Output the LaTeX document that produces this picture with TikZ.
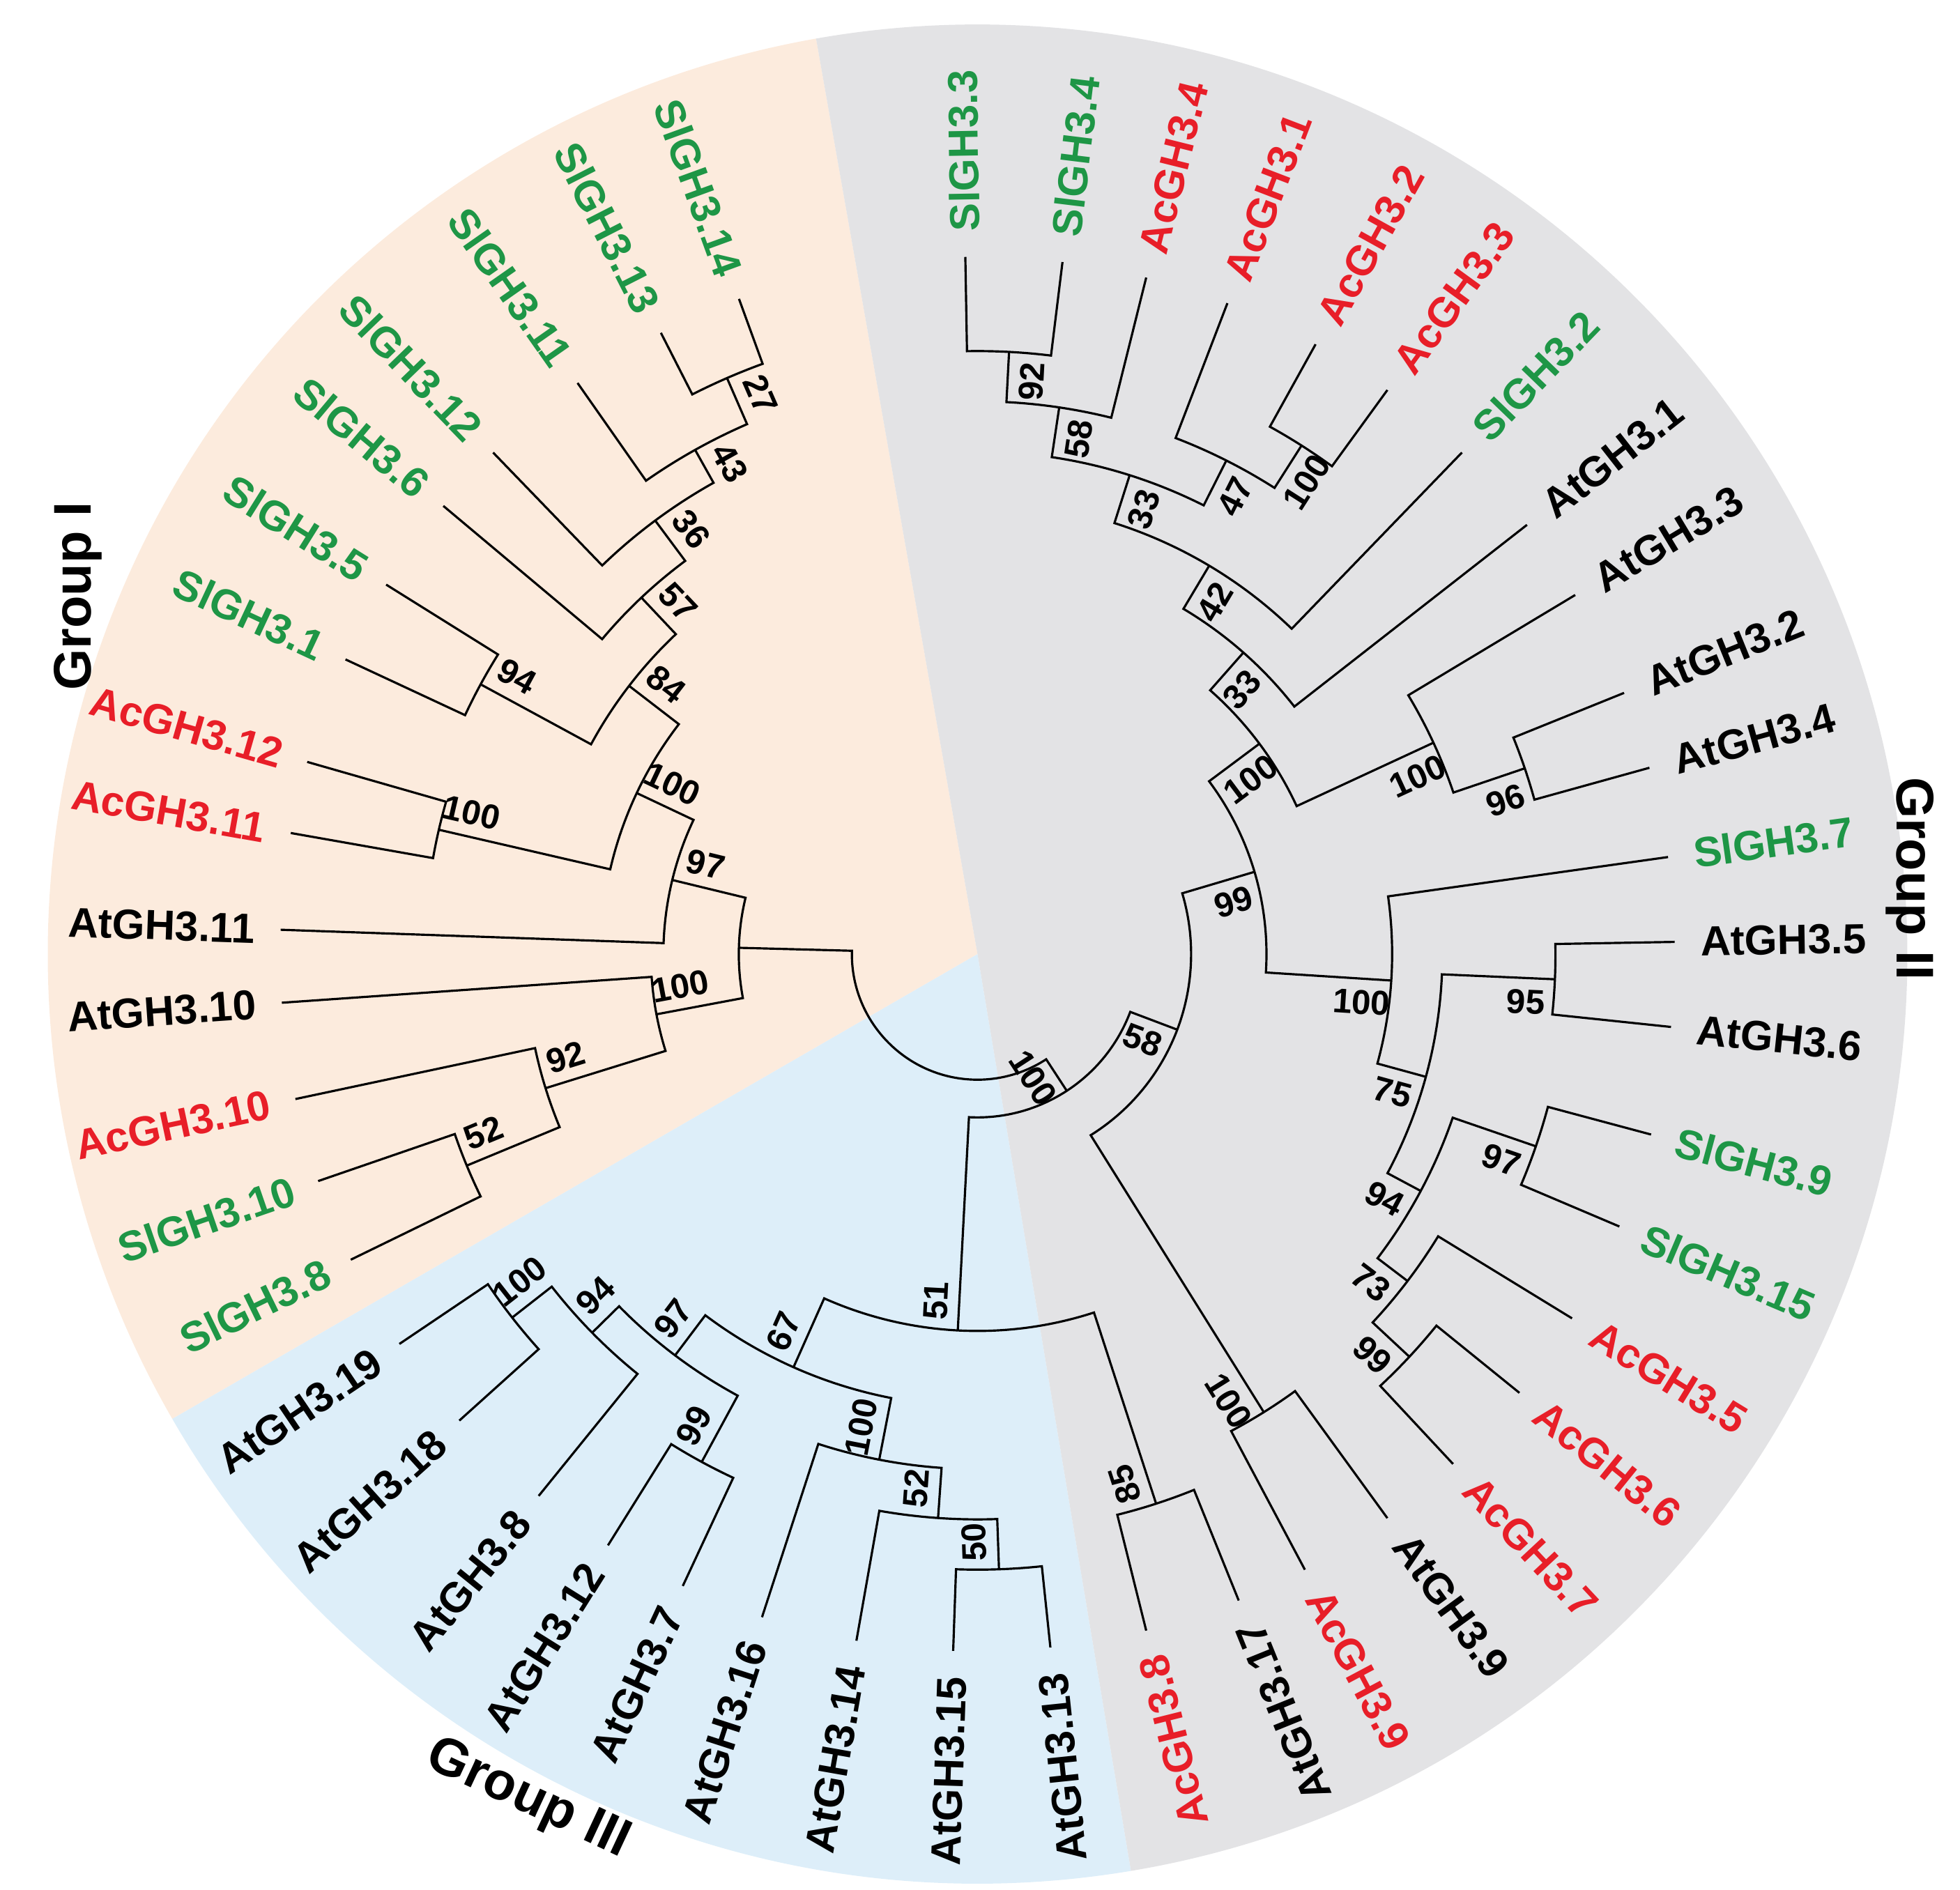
\documentclass[tikz,border=0pt]{standalone}
\usepackage{fontspec}
\setmainfont{Liberation Sans}
\usetikzlibrary{positioning,calc}
\definecolor{peach}{RGB}{252,235,221}
\definecolor{greyII}{RGB}{227,227,229}
\definecolor{skyIII}{RGB}{221,238,249}
\definecolor{slgreen}{RGB}{30,150,70}
\definecolor{acred}{RGB}{232,30,40}

\tikzset{
  gene/.style={font=\bfseries\fontsize{9.5}{11}\selectfont, inner sep=0pt},
  boot/.style={font=\bfseries\fontsize{7.8}{9}\selectfont, inner sep=0.5pt},
  group/.style={font=\bfseries\fontsize{12}{14}\selectfont},
  branch/.style={line width=0.5pt}
}

% leaf: name, angle, colour, text
\newcommand\gene[4]{%
  \coordinate (#1) at (#2:5.55);
  \expandafter\xdef\csname ang#1\endcsname{#2}%
  \pgfmathtruncatemacro\outw{#2>-65 ? 1 : 0}%
  \ifnum\outw=1
    \node[gene,#3,anchor=west,rotate=#2] (l#1) at (#2:5.75) {#4};
  \else
    \pgfmathsetmacro\rot{#2+180}%
    \node[gene,#3,anchor=east,rotate=\rot] (l#1) at (#2:5.75) {#4};
  \fi}

% clade: name, radius, child 1, child 2, bootstrap
\newcommand\clade[5]{%
  \pgfmathsetmacro\aone{\csname ang#3\endcsname}%
  \pgfmathsetmacro\atwo{\csname ang#4\endcsname}%
  \pgfmathsetmacro\amid{(\aone+\atwo)/2}%
  \draw[branch] (#3) -- (\aone:#2) arc[start angle=\aone, end angle=\atwo, radius=#2] -- (#4);
  \coordinate (#1) at (\amid:#2);
  \expandafter\xdef\csname ang#1\endcsname{\amid}%
  \pgfmathsetmacro\aoff{\amid-11.5/#2}%
  \pgfmathtruncatemacro\outw{\amid>-65 ? 1 : 0}%
  \ifnum\outw=1 \pgfmathsetmacro\rot{\amid}\else \pgfmathsetmacro\rot{\amid+180}\fi
  \node[boot,rotate=\rot] (b#1) at (\aoff:{#2-0.22}) {#5};}

\begin{document}
\begin{tikzpicture}
\useasboundingbox (0,0) rectangle (15.6,15.045);
\begin{scope}[shift={(7.78,7.45)}]
% background sectors
\fill[peach] (0,0) -- (100:7.4) arc[start angle=100, end angle=210, radius=7.4] -- cycle;
\fill[skyIII] (0,0) -- (210:7.4) arc[start angle=210, end angle=279.5, radius=7.4] -- cycle;
\fill[greyII] (0,0) -- (-80.5:7.4) arc[start angle=-80.5, end angle=100, radius=7.4] -- cycle;

% Group II leaves
\gene{s3}{91}{slgreen}{SlGH3.3}
\gene{s4}{83}{slgreen}{SlGH3.4}
\gene{a4}{76}{acred}{AcGH3.4}
\gene{a1}{69}{acred}{AcGH3.1}
\gene{a2}{61}{acred}{AcGH3.2}
\gene{a3}{54}{acred}{AcGH3.3}
\gene{s2}{46}{slgreen}{SlGH3.2}
\gene{t1}{38}{black}{AtGH3.1}
\gene{t3}{31}{black}{AtGH3.3}
\gene{t2}{22}{black}{AtGH3.2}
\gene{t4}{15.5}{black}{AtGH3.4}
\gene{s7}{8}{slgreen}{SlGH3.7}
\gene{t5}{1}{black}{AtGH3.5}
\gene{t6}{-6}{black}{AtGH3.6}
\gene{s9}{-15}{slgreen}{SlGH3.9}
\gene{s15}{-23}{slgreen}{SlGH3.15}
\gene{a5}{-31.5}{acred}{AcGH3.5}
\gene{a6}{-39}{acred}{AcGH3.6}
\gene{a7}{-47}{acred}{AcGH3.7}
\gene{t9}{-54}{black}{AtGH3.9}
\gene{a9}{-62}{acred}{AcGH3.9}
\gene{t17}{-68}{black}{AtGH3.17}
\gene{a8}{-76}{acred}{AcGH3.8}
% Group III leaves
\gene{t13}{-84}{black}{AtGH3.13}
\gene{t15}{-92}{black}{AtGH3.15}
\gene{t14}{-100}{black}{AtGH3.14}
\gene{t16}{-108}{black}{AtGH3.16}
\gene{t7}{-115}{black}{AtGH3.7}
\gene{t12}{-122}{black}{AtGH3.12}
\gene{t8}{-129}{black}{AtGH3.8}
\gene{t18}{-138}{black}{AtGH3.18}
\gene{t19}{-146}{black}{AtGH3.19}
% Group I leaves
\gene{s8}{-154}{slgreen}{SlGH3.8}
\gene{s10}{-161}{slgreen}{SlGH3.10}
\gene{a10}{-168}{acred}{AcGH3.10}
\gene{t10}{-176}{black}{AtGH3.10}
\gene{t11}{-182}{black}{AtGH3.11}
\gene{a11}{-190}{acred}{AcGH3.11}
\gene{a12}{-196}{acred}{AcGH3.12}
\gene{s1}{-205}{slgreen}{SlGH3.1}
\gene{s5}{-212}{slgreen}{SlGH3.5}
\gene{s6}{-220}{slgreen}{SlGH3.6}
\gene{s12}{-226}{slgreen}{SlGH3.12}
\gene{s11}{-235}{slgreen}{SlGH3.11}
\gene{s13}{-243}{slgreen}{SlGH3.13}
\gene{s14}{-250}{slgreen}{SlGH3.14}

% Group I
\clade{n52a}{4.4}{s10}{s8}{52}
\clade{n92a}{3.6}{a10}{n52a}{92}
\clade{n100a}{2.6}{t10}{n92a}{100}
\clade{n27}{5.0}{s13}{s14}{27}
\clade{n43}{4.6}{s11}{n27}{43}
\clade{n36}{4.3}{s12}{n43}{36}
\clade{n57}{3.9}{s6}{n36}{57}
\clade{n94a}{4.5}{s1}{s5}{94}
\clade{n84}{3.5}{n94a}{n57}{84}
\clade{n100b}{4.4}{a11}{a12}{100}
\clade{n100c}{3.0}{n100b}{n84}{100}
\clade{n97a}{2.5}{t11}{n100c}{97}
\clade{gI}{1.9}{n100a}{n97a}{}

% Group III
\clade{n100d}{4.7}{t19}{t18}{100}
\clade{n94b}{4.3}{n100d}{t8}{94}
\clade{n99a}{4.6}{t12}{t7}{99}
\clade{n97b}{4.0}{n94b}{n99a}{97}
\clade{n50}{4.9}{t15}{t13}{50}
\clade{n52b}{4.5}{t14}{n50}{52}
\clade{n100e}{4.1}{t16}{n52b}{100}
\clade{n67}{3.6}{n97b}{n100e}{67}
\clade{n85}{4.6}{t17}{a8}{85}
\clade{n51}{3.0}{n67}{n85}{51}

% Group II
\clade{n92b}{4.8}{s3}{s4}{92}
\clade{n58a}{4.4}{n92b}{a4}{58}
\clade{n100f}{4.8}{a2}{a3}{100}
\clade{n47}{4.4}{a1}{n100f}{47}
\clade{n33a}{4.0}{n58a}{n47}{33}
\clade{n42}{3.6}{n33a}{s2}{42}
\clade{n33b}{3.2}{n42}{t1}{33}
\clade{n96}{4.6}{t2}{t4}{96}
\clade{n100g}{4.0}{t3}{n96}{100}
\clade{n100h}{2.8}{n33b}{n100g}{100}
\clade{n95}{4.6}{t5}{t6}{95}
\clade{n97c}{4.7}{s9}{s15}{97}
\clade{n99b}{4.7}{a6}{a7}{99}
\clade{n73}{4.3}{a5}{n99b}{73}
\clade{n94c}{4.0}{n97c}{n73}{94}
\clade{n75}{3.7}{n95}{n94c}{75}
\clade{n100i}{3.3}{s7}{n75}{100}
\clade{n99c}{2.3}{n100h}{n100i}{99}
\clade{n100j}{4.3}{t9}{a9}{100}
\clade{n58b}{1.7}{n99c}{n100j}{58}

% root
\clade{nR}{1.3}{n51}{n58b}{100}
\clade{root}{1.0}{gI}{nR}{}
\end{scope}

% group labels
\node[group,rotate=90] (gI-lab) at (0.62,10.3) {Group I};
\node[group,rotate=-90] (gII-lab) at (15.2,8.05) {Group II};
\node[group,rotate=-25] (gIII-lab) at (4.2,0.72) {Group III};
\end{tikzpicture}
\end{document}
